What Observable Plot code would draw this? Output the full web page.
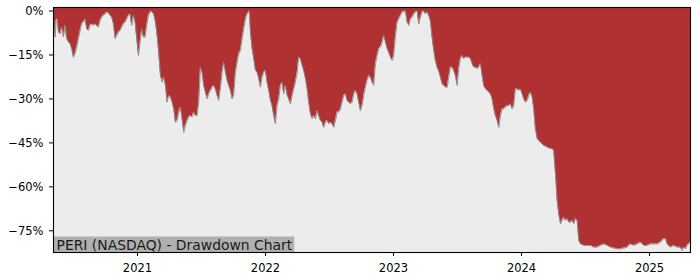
<!DOCTYPE html>
<html>
<head>
<meta charset="utf-8">
<script src="https://cdn.jsdelivr.net/npm/d3@7"></script>
<script src="https://cdn.jsdelivr.net/npm/@observablehq/plot@0.6"></script>
<style>
  html, body { margin: 0; padding: 0; background: #ffffff; }
  #chart { width: 700px; height: 280px; }
</style>
</head>
<body>
<div id="chart"></div>
<script>
// Time (decimal years)
const years = [
  2020.344, 2020.357, 2020.365, 2020.375, 2020.383, 2020.396, 2020.409, 2020.422, 2020.435, 2020.448,
  2020.461, 2020.474, 2020.487, 2020.500, 2020.513, 2020.526, 2020.539, 2020.552, 2020.565, 2020.578,
  2020.591, 2020.604, 2020.617, 2020.630, 2020.643, 2020.656, 2020.670, 2020.682, 2020.695, 2020.709,
  2020.721, 2020.734, 2020.748, 2020.760, 2020.773, 2020.787, 2020.799, 2020.813, 2020.826, 2020.838,
  2020.852, 2020.865, 2020.877, 2020.891, 2020.904, 2020.916, 2020.930, 2020.943, 2020.955, 2020.969,
  2020.982, 2020.995, 2021.008, 2021.021, 2021.034, 2021.047, 2021.060, 2021.073, 2021.086, 2021.099,
  2021.105, 2021.117, 2021.127, 2021.141, 2021.154, 2021.166, 2021.180, 2021.193, 2021.205, 2021.219,
  2021.232, 2021.245, 2021.258, 2021.271, 2021.284, 2021.297, 2021.310, 2021.323, 2021.336, 2021.349,
  2021.362, 2021.375, 2021.388, 2021.401, 2021.414, 2021.427, 2021.440, 2021.453, 2021.466, 2021.479,
  2021.492, 2021.505, 2021.518, 2021.531, 2021.545, 2021.557, 2021.570, 2021.584, 2021.596, 2021.609,
  2021.623, 2021.635, 2021.648, 2021.662, 2021.674, 2021.688, 2021.701, 2021.713, 2021.727, 2021.740,
  2021.752, 2021.766, 2021.779, 2021.791, 2021.805, 2021.818, 2021.830, 2021.844, 2021.857, 2021.870,
  2021.875, 2021.883, 2021.896, 2021.909, 2021.922, 2021.935, 2021.948, 2021.961, 2021.974, 2021.987,
  2022.000, 2022.013, 2022.026, 2022.039, 2022.052, 2022.065, 2022.078, 2022.091, 2022.104, 2022.117,
  2022.130, 2022.143, 2022.156, 2022.170, 2022.182, 2022.195, 2022.209, 2022.221, 2022.234, 2022.248,
  2022.260, 2022.273, 2022.287, 2022.299, 2022.313, 2022.326, 2022.338, 2022.352, 2022.365, 2022.377,
  2022.391, 2022.404, 2022.416, 2022.430, 2022.443, 2022.455, 2022.469, 2022.482, 2022.495, 2022.508,
  2022.521, 2022.534, 2022.547, 2022.560, 2022.573, 2022.586, 2022.599, 2022.612, 2022.625, 2022.638,
  2022.651, 2022.664, 2022.677, 2022.690, 2022.703, 2022.716, 2022.729, 2022.742, 2022.755, 2022.768,
  2022.781, 2022.794, 2022.807, 2022.820, 2022.834, 2022.846, 2022.859, 2022.873, 2022.885, 2022.898,
  2022.912, 2022.924, 2022.938, 2022.951, 2022.963, 2022.977, 2022.990, 2023.002, 2023.016, 2023.029,
  2023.041, 2023.055, 2023.068, 2023.080, 2023.094, 2023.107, 2023.120, 2023.133, 2023.146, 2023.159,
  2023.172, 2023.185, 2023.198, 2023.211, 2023.224, 2023.237, 2023.250, 2023.263, 2023.276, 2023.289,
  2023.302, 2023.315, 2023.328, 2023.341, 2023.354, 2023.367, 2023.380, 2023.393, 2023.406, 2023.420,
  2023.432, 2023.445, 2023.459, 2023.471, 2023.484, 2023.498, 2023.510, 2023.523, 2023.537, 2023.549,
  2023.563, 2023.576, 2023.588, 2023.602, 2023.615, 2023.627, 2023.641, 2023.654, 2023.666, 2023.680,
  2023.693, 2023.705, 2023.719, 2023.732, 2023.745, 2023.758, 2023.771, 2023.784, 2023.797, 2023.810,
  2023.823, 2023.836, 2023.849, 2023.862, 2023.875, 2023.888, 2023.901, 2023.914, 2023.927, 2023.940,
  2023.953, 2023.966, 2023.979, 2023.992, 2024.005, 2024.018, 2024.031, 2024.045, 2024.057, 2024.070,
  2024.084, 2024.096, 2024.109, 2024.123, 2024.135, 2024.148, 2024.174, 2024.201, 2024.227, 2024.240,
  2024.252, 2024.266, 2024.279, 2024.291, 2024.305, 2024.318, 2024.330, 2024.344, 2024.357, 2024.370,
  2024.383, 2024.396, 2024.409, 2024.422, 2024.435, 2024.448, 2024.461, 2024.487, 2024.513, 2024.539,
  2024.565, 2024.591, 2024.617, 2024.643, 2024.670, 2024.695, 2024.721, 2024.748, 2024.773, 2024.799,
  2024.826, 2024.852, 2024.877, 2024.904, 2024.930, 2024.955, 2024.982, 2025.008, 2025.034, 2025.060,
  2025.086, 2025.112, 2025.125, 2025.138, 2025.164, 2025.190, 2025.216, 2025.242, 2025.255, 2025.268,
  2025.281, 2025.295, 2025.307, 2025.320
];

// Drawdown in percent
const drawdown = [
  -3.8, -8.9, -3.2, -2.7, -7.2, -7.8, -5.5, -8.9, -4.9, -9.5,
  -10.6, -11.2, -12.9, -15.8, -14.6, -12.3, -9.5, -6.7, -4.4, -3.8,
  -2.7, -6.1, -6.7, -4.9, -4.4, -4.9, -4.4, -4.9, -5.5, -3.2,
  -2.1, -1.5, -1.0, -0.4, -0.6, -1.5, -2.1, -4.4, -9.5, -8.4,
  -7.2, -6.7, -5.5, -4.4, -3.8, -2.7, -1.5, -1.0, -4.9, -1.5,
  -3.8, -9.5, -15.2, -10.6, -6.1, -8.9, -8.9, -4.9, -1.5, -0.4,
  0, -0.5, -1.0, -3.8, -8.4, -14.1, -22.0, -24.3, -22.6, -25.4,
  -31.1, -28.8, -29.4, -31.1, -33.4, -38.0, -37.4, -34.5, -32.8, -36.8,
  -41.4, -39.1, -37.4, -36.2, -35.7, -36.2, -34.5, -35.7, -35.7, -31.1,
  -19.2, -20.9, -25.4, -27.7, -30.0, -28.3, -27.1, -26.0, -25.4, -26.6,
  -28.8, -30.5, -26.6, -20.9, -17.5, -20.9, -23.7, -25.4, -27.1, -30.0,
  -28.8, -20.9, -17.5, -14.6, -13.5, -9.5, -6.1, -2.7, -1.0, -0.4,
  0, -7.2, -12.9, -16.3, -20.3, -20.9, -23.1, -26.0, -22.6, -20.9,
  -20.3, -24.3, -27.1, -30.5, -32.3, -35.7, -38.5, -32.3, -30.0, -25.4,
  -24.3, -28.3, -25.4, -28.8, -30.0, -31.7, -28.8, -26.6, -24.3, -20.9,
  -15.8, -16.3, -18.6, -20.3, -23.1, -26.6, -31.1, -35.1, -36.8, -35.7,
  -36.8, -34.0, -35.7, -37.4, -38.0, -39.7, -38.0, -37.4, -38.5, -38.0,
  -38.5, -39.7, -37.4, -34.5, -34.5, -33.5, -31.1, -28.8, -28.3, -30.5,
  -31.1, -31.7, -31.1, -28.3, -27.1, -28.3, -31.1, -34.0, -32.3, -28.8,
  -26.0, -23.7, -22.0, -22.6, -24.3, -25.4, -18.0, -15.2, -12.9, -12.4,
  -10.6, -8.4, -10.6, -12.9, -14.1, -15.8, -16.9, -15.2, -8.4, -3.8,
  -2.7, -1.5, -0.4, -0.2, 0, -3.8, -4.9, -2.7, -2.1, -1.0,
  -0.4, 0, -4.4, -2.1, -0.4, 0, -1.0, -0.4, -1.5, -3.5,
  -9.0, -13.5, -17.0, -19.2, -20.5, -22.6, -24.8, -25.4, -26.0, -26.0,
  -22.6, -19.2, -19.2, -20.3, -22.0, -25.4, -19.7, -16.3, -15.2, -16.3,
  -15.8, -15.8, -15.8, -16.3, -18.0, -19.2, -19.2, -19.7, -19.2, -18.0,
  -22.0, -25.4, -26.6, -27.1, -27.7, -28.3, -30.0, -33.4, -35.7, -37.4,
  -39.7, -35.7, -33.4, -33.4, -32.8, -32.3, -32.3, -31.7, -33.4, -32.3,
  -26.6, -26.6, -27.1, -26.6, -28.3, -30.0, -31.1, -30.5, -28.8, -27.7,
  -29.4, -33.4, -40.2, -43.6, -44.2, -44.8, -45.9, -46.5, -47.0, -47.0,
  -47.6, -55.6, -64.7, -69.2, -72.6, -71.5, -70.4, -71.5, -70.9, -72.1,
  -72.1, -71.5, -72.6, -70.9, -71.5, -78.3, -79.5, -80.0, -80.0, -80.0,
  -80.6, -80.6, -80.0, -79.5, -80.0, -80.6, -80.9, -81.2, -81.2, -80.9,
  -80.6, -79.5, -80.0, -79.5, -78.9, -80.0, -80.0, -79.5, -79.5, -79.5,
  -78.9, -77.7, -77.7, -79.5, -80.6, -80.0, -80.6, -80.6, -81.7, -80.6,
  -81.2, -80.0, -79.5, -78.9
];

const xTicks = [2021, 2022, 2023, 2024, 2025];
const yTicks = [0, -15, -30, -45, -60, -75];
const xDomain = [2020.344, 2025.320];
const yDomain = [-82.4, 1.2];
const chartLabel = "PERI (NASDAQ) - Drawdown Chart";

const data = years.map((t, i) => ({t, dd: drawdown[i]}));

const RED = "#b03131";
const BG = "#ececec";

const fmtPct = d => (d < 0 ? "\u2212" : "") + Math.abs(d) + "%";

const chart = Plot.plot({
  width: 700,
  height: 280,
  marginLeft: 53,
  marginRight: 10,
  marginTop: 7,
  marginBottom: 28,
  style: {fontFamily: "'DejaVu Sans', sans-serif", fontSize: "11.5px", color: "#000", background: "#ffffff"},
  x: {type: "linear", domain: xDomain, label: null},
  y: {domain: yDomain, label: null},
  marks: [
    Plot.frame({fill: RED, stroke: "none"}),
    Plot.areaY(data, {x: "t", y1: yDomain[0], y2: "dd", fill: BG, curve: "linear", clip: true}),
    Plot.line(data, {x: "t", y: "dd", stroke: "#8a8a8a", strokeWidth: 0.9, clip: true}),
    Plot.text([chartLabel], {
      frameAnchor: "bottom-left", textAnchor: "start", lineAnchor: "bottom",
      dx: 3, dy: -2.5, fontSize: 13.9, fill: "#1a1a1a", className: "dd-label"
    }),
    Plot.frame({stroke: "#000", strokeWidth: 1.1}),
    Plot.axisX({ticks: xTicks, tickFormat: d => String(d), tickSize: 4, tickPadding: 7, stroke: "#000"}),
    Plot.axisY({ticks: yTicks, tickFormat: fmtPct, tickSize: 4, tickPadding: 6, stroke: "#000"})
  ]
});

document.getElementById("chart").appendChild(chart);

// grey box behind the label, measured in screen space
const svg = chart.tagName.toLowerCase() === "svg" ? chart : chart.querySelector("svg");
const g = svg.querySelector(".dd-label");
if (g) {
  const txt = g.querySelector("text");
  const sb = svg.getBoundingClientRect();
  const tb = txt.getBoundingClientRect();
  const left = 53, bottom = 280 - 28;
  const top = tb.top - sb.top - 0.5;
  const right = tb.right - sb.left + 1.5;
  const rect = document.createElementNS("http://www.w3.org/2000/svg", "rect");
  rect.setAttribute("x", left);
  rect.setAttribute("y", top);
  rect.setAttribute("width", right - left);
  rect.setAttribute("height", bottom - top);
  rect.setAttribute("fill", "#b0b0b0");
  g.parentNode.insertBefore(rect, g);
}
</script>
</body>
</html>
